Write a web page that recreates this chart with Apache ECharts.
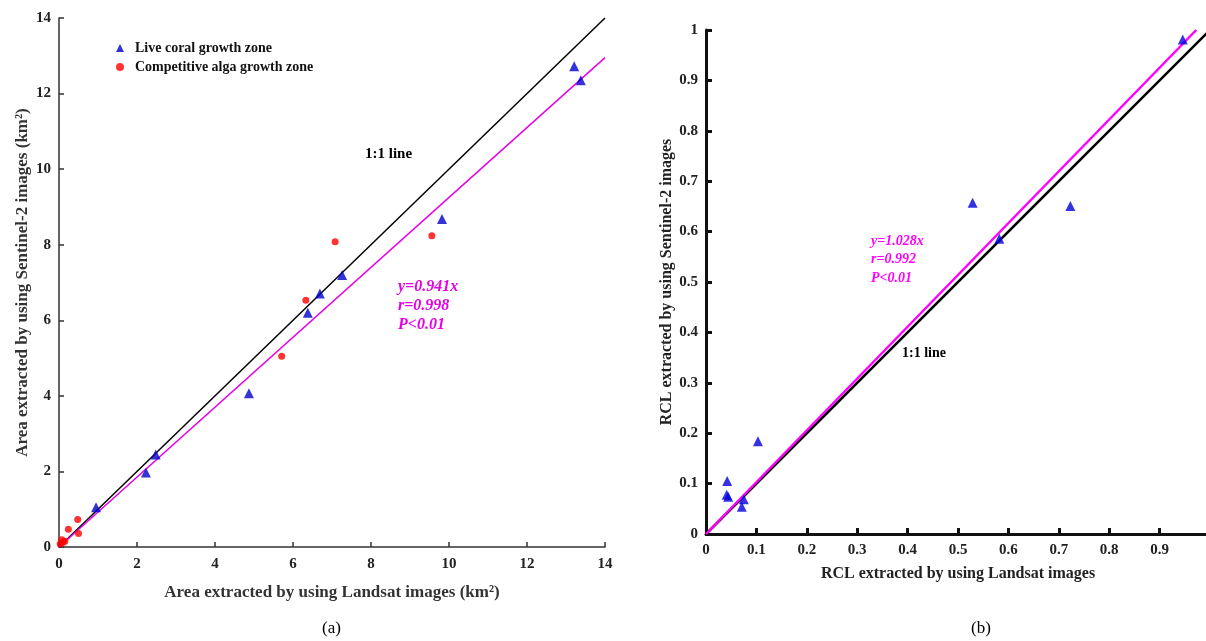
<!DOCTYPE html>
<html>
<head>
<meta charset="utf-8">
<script src="https://cdn.jsdelivr.net/npm/echarts@6/dist/echarts.min.js"></script>
<style>html,body{margin:0;padding:0;background:#fff}#c{width:1206px;height:641px}</style>
</head>
<body>
<div id="c"></div>
<script>
// ---- data (a) ----
const coralA = [[13.21,12.72],[13.38,12.35],[9.82,8.68],[7.26,7.20],[6.69,6.71],[6.38,6.20],[4.87,4.07],[2.48,2.45],[2.23,1.97],[0.95,1.05]];
const algaA = [[7.08,8.08],[9.56,8.24],[6.33,6.53],[5.71,5.05],[0.48,0.73],[0.24,0.47],[0.50,0.36],[0.07,0.19],[0.15,0.15],[0.03,0.08],[0.10,0.12]];
const slopeA = 0.925;   // drawn fit line slope
const maxA = 14;
// ---- data (b) ----
const rclB = [[0.946,0.981],[0.529,0.657],[0.723,0.651],[0.582,0.586],[0.103,0.184],[0.042,0.105],[0.041,0.078],[0.044,0.074],[0.075,0.069],[0.071,0.054]];
const slopeB = 1.028;
const maxB = 1;

const serif = '"Liberation Serif", "DejaVu Serif", serif';
const chart = echarts.init(document.getElementById('c'));

function axisA(name, gap, isY) {
  return {
    type: 'value', min: 0, max: maxA, interval: 2, gridIndex: 0,
    name: name, nameLocation: 'middle', nameGap: gap,
    nameTextStyle: {fontFamily: serif, fontWeight: 'bold', fontSize: 17, color: '#333'},
    axisLine: {show: true, onZero: false, lineStyle: {color: '#333', width: 1.5}},
    axisTick: {show: true, inside: true, length: 5, lineStyle: {color: '#333', width: 1.5}},
    axisLabel: {fontFamily: serif, fontWeight: 'bold', fontSize: 15, color: '#222', margin: isY ? 8 : 10},
    splitLine: {show: false}
  };
}
function axisB(name, gap, isY) {
  return {
    type: 'value', min: 0, max: maxB, interval: 0.1, gridIndex: 1,
    name: name, nameLocation: 'middle', nameGap: gap,
    nameTextStyle: {fontFamily: serif, fontWeight: 'bold', fontSize: 16, color: '#222'},
    axisLine: {show: true, onZero: false, lineStyle: {color: '#111', width: 3}},
    axisTick: {show: true, inside: true, length: 6, lineStyle: {color: '#111', width: 3}},
    axisLabel: {fontFamily: serif, fontWeight: 'bold', fontSize: 15, color: '#222', margin: isY ? 8 : 9,
      formatter: v => (Math.abs(v - 1) < 1e-9 ? '1' : (Math.abs(v) < 1e-9 ? '0' : v.toFixed(1)))},
    splitLine: {show: false}
  };
}

const option = {
  animation: false,
  backgroundColor: '#fff',
  grid: [
    {left: 59, top: 18, width: 546, height: 529, outerBoundsMode: 'none', containLabel: false},
    {left: 706, top: 30, width: 504, height: 504, outerBoundsMode: 'none', containLabel: false}
  ],
  xAxis: [axisA('Area extracted by using Landsat images (km²)', 37, false), axisB('RCL extracted by using Landsat images', 32, false)],
  yAxis: [axisA('Area extracted by using Sentinel-2 images (km²)', 28, true), axisB('RCL extracted by using Sentinel-2 images', 31, true)],
  legend: {
    data: ['Live coral growth zone', 'Competitive alga growth zone'],
    orient: 'vertical', left: 111, top: 36, itemGap: 5, itemWidth: 8, itemHeight: 8,
    textStyle: {fontFamily: serif, fontWeight: 'bold', fontSize: 14, color: '#111', padding: [0,0,0,6]}
  },
  series: [
    {name: '1:1 line', type: 'line', xAxisIndex: 0, yAxisIndex: 0, data: [[0,0],[maxA,maxA]], symbol: 'none', lineStyle: {color: '#000', width: 1.5}, z: 2},
    {name: 'fitA', type: 'line', xAxisIndex: 0, yAxisIndex: 0, data: [[0,0],[maxA,maxA*slopeA]], symbol: 'none', lineStyle: {color: '#e600e6', width: 1.5}, z: 2},
    {name: 'Live coral growth zone', type: 'scatter', xAxisIndex: 0, yAxisIndex: 0, data: coralA, symbol: 'triangle', symbolSize: 10, itemStyle: {color: '#0000cc'}, z: 3},
    {name: 'Competitive alga growth zone', type: 'scatter', xAxisIndex: 0, yAxisIndex: 0, data: algaA, symbol: 'circle', symbolSize: 7, itemStyle: {color: '#ff0000'}, z: 3},
    {name: '1:1 line b', type: 'line', xAxisIndex: 1, yAxisIndex: 1, data: [[0,0],[maxB,maxB]], symbol: 'none', lineStyle: {color: '#000', width: 2.5}, z: 2},
    {name: 'fitB', type: 'line', xAxisIndex: 1, yAxisIndex: 1, data: [[0,0],[maxB/slopeB,maxB]], symbol: 'none', lineStyle: {color: '#ff00ff', width: 2.5}, z: 2},
    {name: 'RCL', type: 'scatter', xAxisIndex: 1, yAxisIndex: 1, data: rclB, symbol: 'triangle', symbolSize: 10, itemStyle: {color: '#0000dd'}, z: 3}
  ],
  graphic: [
    {type: 'text', left: 365, top: 147, style: {text: '1:1 line', font: 'bold 15px ' + serif, fill: '#000'}},
    {type: 'text', left: 398, top: 277, style: {text: 'y=0.941x\nr=0.998\nP<0.01', font: 'italic bold 16px ' + serif, fill: '#e600e6', lineHeight: 19}},
    {type: 'text', left: 871, top: 232, style: {text: 'y=1.028x\nr=0.992\nP<0.01', font: 'italic bold 14px ' + serif, fill: '#ff00ff', lineHeight: 18.5}},
    {type: 'text', left: 902, top: 346, style: {text: '1:1 line', font: 'bold 14px ' + serif, fill: '#000'}},
    {type: 'text', left: 322, top: 620, style: {text: '(a)', font: '17px ' + serif, fill: '#000'}},
    {type: 'text', left: 971, top: 620, style: {text: '(b)', font: '17px ' + serif, fill: '#000'}}
  ]
};
chart.setOption(option);
</script>
</body>
</html>
